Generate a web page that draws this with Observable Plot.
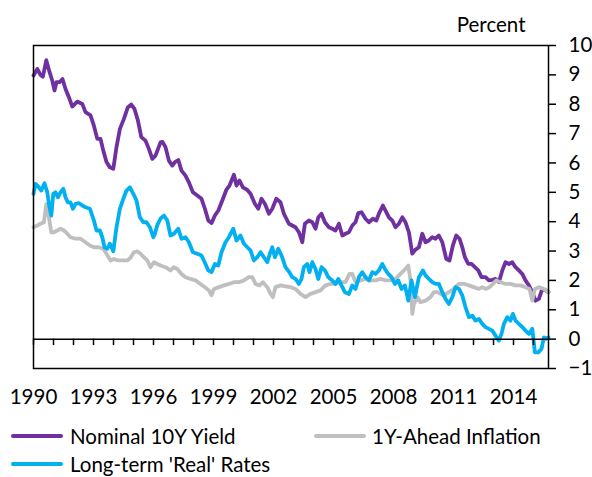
<!DOCTYPE html>
<html>
<head>
<meta charset="utf-8">
<script src="https://cdn.jsdelivr.net/npm/d3@7"></script>
<script src="https://cdn.jsdelivr.net/npm/@observablehq/plot@0.6"></script>
<style>
  html, body { margin: 0; padding: 0; background: #fff; }
  #wrap { position: relative; width: 592px; height: 477px; overflow: hidden; font-family: Lato, "Open Sans", sans-serif; color: #000; }
  .sw { position: absolute; height: 4px; width: 52px; border-radius: 2px; }
  .lt { position: absolute; font-size: 20.5px; line-height: 24px; white-space: nowrap; }
</style>
</head>
<body>
<div id="wrap"></div>
<script>
// ---- Data ----
const nominalDates = [1990.00,1990.19,1990.35,1990.47,1990.64,1990.80,1990.94,1991.05,1991.15,1991.30,1991.45,1991.60,1991.77,1991.94,1992.19,1992.44,1992.60,1992.85,1993.02,1993.19,1993.35,1993.49,1993.65,1993.82,1993.99,1994.15,1994.32,1994.52,1994.72,1994.89,1995.05,1995.22,1995.39,1995.60,1995.77,1995.94,1996.10,1996.35,1996.45,1996.60,1996.77,1996.94,1997.07,1997.24,1997.40,1997.60,1997.77,1997.97,1998.19,1998.40,1998.57,1998.74,1998.90,1999.07,1999.24,1999.44,1999.64,1999.80,2000.02,2000.15,2000.30,2000.47,2000.69,2000.85,2001.07,2001.24,2001.40,2001.57,2001.77,2001.94,2002.14,2002.35,2002.52,2002.77,2002.94,2003.10,2003.27,2003.44,2003.57,2003.77,2003.94,2004.10,2004.24,2004.40,2004.57,2004.77,2004.94,2005.10,2005.27,2005.44,2005.60,2005.77,2005.94,2006.10,2006.24,2006.40,2006.60,2006.77,2006.97,2007.14,2007.30,2007.47,2007.60,2007.77,2007.94,2008.10,2008.27,2008.44,2008.60,2008.77,2008.94,2009.10,2009.27,2009.44,2009.60,2009.77,2009.94,2010.10,2010.27,2010.44,2010.64,2010.80,2010.97,2011.14,2011.30,2011.44,2011.57,2011.74,2011.90,2012.07,2012.24,2012.40,2012.60,2012.77,2012.94,2013.10,2013.27,2013.44,2013.60,2013.77,2013.94,2014.10,2014.27,2014.44,2014.60,2014.77,2014.94,2015.10,2015.27,2015.44,2015.60,2015.75];
const nominalValues = [8.98,9.2,9.0,8.94,9.5,9.1,8.8,8.47,8.75,8.75,8.86,8.52,8.24,7.92,8.09,8.01,7.73,7.62,7.27,6.82,6.82,6.42,6.03,5.85,5.8,6.54,7.16,7.5,7.9,7.99,7.84,7.45,6.88,6.76,6.48,6.14,6.25,6.7,6.72,6.54,6.08,5.91,6.03,6.1,5.74,5.57,5.34,5.0,4.89,4.78,4.44,4.04,3.95,4.21,4.38,4.72,5.08,5.23,5.6,5.23,5.4,5.17,5.08,4.95,4.61,4.44,4.78,4.61,4.27,4.44,4.78,4.66,4.27,3.93,3.87,3.81,3.64,3.3,3.93,4.04,3.98,3.76,4.15,4.27,3.98,3.81,3.76,3.7,3.93,3.53,3.59,3.64,3.87,3.98,4.29,4.32,4.1,3.98,4.1,4.04,4.32,4.55,4.38,4.15,4.04,3.81,3.93,4.15,3.98,3.64,2.91,3.05,3.13,3.59,3.3,3.36,3.47,3.42,3.53,3.3,2.73,2.68,3.19,3.53,3.42,3.13,2.79,2.56,2.56,2.45,2.34,2.11,2.11,2.0,2.02,2.05,1.94,2.34,2.62,2.56,2.62,2.45,2.34,2.22,2.0,1.83,1.6,1.31,1.37,1.71,1.66,1.6];

const inflationDates = [1990.00,1990.19,1990.35,1990.52,1990.64,1990.77,1990.89,1991.02,1991.19,1991.35,1991.52,1991.69,1991.85,1992.10,1992.35,1992.60,1992.82,1993.02,1993.27,1993.49,1993.65,1993.85,1994.02,1994.22,1994.44,1994.69,1994.85,1995.02,1995.19,1995.35,1995.52,1995.69,1995.85,1996.02,1996.19,1996.35,1996.60,1996.85,1997.02,1997.19,1997.40,1997.60,1997.85,1998.10,1998.35,1998.57,1998.77,1998.90,1999.02,1999.27,1999.52,1999.77,2000.02,2000.27,2000.52,2000.77,2000.94,2001.10,2001.30,2001.47,2001.69,2001.85,2001.97,2002.10,2002.35,2002.60,2002.85,2003.10,2003.35,2003.60,2003.85,2004.10,2004.35,2004.60,2004.85,2005.10,2005.35,2005.60,2005.80,2005.94,2006.10,2006.35,2006.60,2006.85,2007.10,2007.35,2007.60,2007.85,2008.10,2008.35,2008.60,2008.74,2008.85,2008.94,2009.02,2009.19,2009.35,2009.60,2009.85,2010.02,2010.19,2010.35,2010.52,2010.77,2011.02,2011.27,2011.52,2011.77,2012.02,2012.27,2012.44,2012.60,2012.80,2012.97,2013.14,2013.35,2013.60,2013.85,2014.10,2014.35,2014.60,2014.80,2014.94,2015.07,2015.27,2015.52,2015.75];
const inflationValues = [3.81,3.87,3.93,3.98,4.6,4.15,3.64,3.64,3.7,3.76,3.7,3.59,3.47,3.42,3.42,3.3,3.19,3.13,3.13,3.08,2.91,2.68,2.73,2.68,2.68,2.68,2.77,2.96,2.99,2.91,2.79,2.68,2.45,2.62,2.56,2.51,2.45,2.34,2.45,2.39,2.22,2.11,2.05,2.0,1.88,1.77,1.66,1.49,1.71,1.77,1.83,1.88,1.94,1.94,2.0,2.11,2.11,1.88,1.83,1.94,1.77,1.54,1.43,1.77,1.83,1.8,1.77,1.71,1.54,1.43,1.54,1.6,1.66,1.83,1.88,1.88,1.94,1.94,2.22,2.22,1.94,2.0,2.05,2.0,2.0,2.05,2.0,2.0,2.05,2.22,2.39,2.51,2.0,0.86,1.2,1.43,1.26,1.31,1.43,1.6,1.6,1.54,1.49,1.6,1.71,1.88,1.88,1.83,1.77,1.71,1.77,1.71,1.77,1.88,2.0,1.94,1.88,1.88,1.83,1.83,1.77,1.71,1.31,1.71,1.77,1.71,1.6];

const realDates = [1990.00,1990.10,1990.27,1990.39,1990.55,1990.69,1990.77,1990.89,1990.99,1991.10,1991.22,1991.35,1991.49,1991.60,1991.72,1991.85,1991.97,1992.10,1992.27,1992.44,1992.60,1992.82,1993.02,1993.15,1993.32,1993.44,1993.55,1993.69,1993.82,1993.99,1994.15,1994.32,1994.49,1994.65,1994.82,1994.99,1995.15,1995.32,1995.49,1995.65,1995.82,1995.99,1996.05,1996.20,1996.35,1996.52,1996.69,1996.85,1997.02,1997.24,1997.40,1997.60,1997.77,1997.97,1998.19,1998.40,1998.60,1998.74,1998.90,1999.07,1999.24,1999.40,1999.60,1999.77,1999.99,2000.15,2000.35,2000.52,2000.69,2000.85,2001.02,2001.19,2001.35,2001.52,2001.69,2001.82,2001.94,2002.07,2002.24,2002.40,2002.60,2002.77,2002.94,2003.10,2003.27,2003.40,2003.52,2003.69,2003.80,2003.94,2004.10,2004.24,2004.40,2004.57,2004.74,2004.94,2005.10,2005.24,2005.40,2005.57,2005.77,2005.94,2006.10,2006.27,2006.44,2006.60,2006.77,2006.94,2007.10,2007.27,2007.44,2007.57,2007.74,2007.90,2008.07,2008.24,2008.40,2008.57,2008.74,2008.90,2009.07,2009.27,2009.47,2009.60,2009.77,2009.94,2010.10,2010.27,2010.44,2010.60,2010.77,2010.94,2011.10,2011.27,2011.44,2011.60,2011.77,2011.94,2012.10,2012.27,2012.44,2012.60,2012.77,2012.94,2013.10,2013.27,2013.40,2013.52,2013.69,2013.85,2013.97,2014.10,2014.27,2014.44,2014.60,2014.77,2014.94,2015.07,2015.24,2015.40,2015.52,2015.65,2015.75];
const realValues = [4.95,5.29,5.17,5.06,5.31,5.0,4.61,4.21,4.95,5.0,4.83,5.0,5.12,4.83,4.66,4.66,4.44,4.61,4.63,4.55,4.49,4.44,4.04,3.7,3.7,3.47,3.13,3.08,3.25,2.99,3.81,4.44,4.78,5.06,5.17,4.95,4.72,4.15,3.98,3.98,3.81,3.47,3.55,3.9,4.1,4.21,4.04,3.53,3.59,3.76,3.42,3.47,3.3,2.96,2.91,2.85,2.56,2.34,2.28,2.56,2.51,2.96,3.3,3.47,3.76,3.36,3.53,3.25,3.13,3.02,2.68,2.79,2.96,2.79,2.62,2.91,3.13,2.79,3.08,2.85,2.45,2.3,2.11,2.05,1.88,2.05,2.45,2.56,2.28,2.62,2.39,2.05,2.45,2.34,2.11,2.0,1.88,2.05,1.83,1.6,1.54,1.83,1.71,2.11,2.28,2.11,2.0,2.28,2.22,2.34,2.56,2.39,2.22,2.11,1.88,2.0,1.71,1.83,1.31,2.0,1.43,2.11,2.34,2.17,2.05,1.94,1.88,1.88,1.6,1.37,1.2,1.43,1.77,1.71,1.49,1.09,0.75,0.8,0.63,0.69,0.52,0.41,0.35,0.29,0.12,-0.05,0.18,0.52,0.75,0.63,0.86,0.63,0.52,0.41,0.29,0.18,0.35,-0.45,-0.45,-0.33,0.06,0.01,0.06];

const seriesNames = ["Nominal 10Y Yield", "1Y-Ahead Inflation", "Long-term 'Real' Rates"];
const seriesColors = ["#7030A0", "#BFBFBF", "#00B0F0"];
const yTickValues = [-1, 0, 1, 2, 3, 4, 5, 6, 7, 8, 9, 10];
const xLabelYears = [1990, 1993, 1996, 1999, 2002, 2005, 2008, 2011, 2014];
const xTickYears = d3.range(1990, 2016);
const yAxisTitle = "Percent";

// ---- Build tables ----
const toRows = (dates, values, s) => dates.map((d, i) => ({date: d, value: values[i], series: s}));
const nominal = toRows(nominalDates, nominalValues, seriesNames[0]);
const inflation = toRows(inflationDates, inflationValues, seriesNames[1]);
const real = toRows(realDates, realValues, seriesNames[2]);

const chart = Plot.plot({
  width: 592,
  height: 410,
  marginLeft: 33,
  marginRight: 44,
  marginTop: 45,
  marginBottom: 42,
  style: {fontFamily: "Lato, 'Open Sans', sans-serif", fontSize: "20.5px", color: "#000", background: "#fff"},
  x: {domain: [1990, 2015.75]},
  y: {domain: [-1, 10]},
  marks: [
    Plot.line(nominal, {x: "date", y: "value", stroke: seriesColors[0], strokeWidth: 3.8}),
    Plot.line(inflation, {x: "date", y: "value", stroke: seriesColors[1], strokeWidth: 3.8}),
    Plot.line(real, {x: "date", y: "value", stroke: seriesColors[2], strokeWidth: 3.8}),
    Plot.ruleY([0], {stroke: "#000", strokeWidth: 1.5}),
    Plot.ruleX(xTickYears, {y1: 0, y2: -0.22, stroke: "#000", strokeWidth: 1.5}),
    Plot.frame({stroke: "#000", strokeWidth: 1.5}),
    Plot.axisY(yTickValues, {anchor: "right", tickSize: 7, tickPadding: 13, label: null, strokeWidth: 1.5}),
    Plot.axisX(xLabelYears, {anchor: "bottom", tickSize: 0, tickPadding: 21, tickFormat: d => String(d), label: null}),
    Plot.text([yAxisTitle], {frameAnchor: "top-right", dx: -23, dy: -20, textAnchor: "end", lineAnchor: "middle", fontSize: 20.5})
  ]
});

const wrap = document.getElementById("wrap");
wrap.appendChild(chart);

// ---- Legend (HTML below the SVG) ----
const legendItems = [
  {name: seriesNames[0], color: seriesColors[0], sx: 11, tx: 70, cy: 436},
  {name: seriesNames[1], color: seriesColors[1], sx: 314, tx: 372, cy: 436},
  {name: seriesNames[2], color: seriesColors[2], sx: 11, tx: 70, cy: 464}
];
for (const it of legendItems) {
  const sw = document.createElement("div");
  sw.className = "sw";
  sw.style.left = it.sx + "px";
  sw.style.top = (it.cy - 2) + "px";
  sw.style.background = it.color;
  wrap.appendChild(sw);
  const t = document.createElement("div");
  t.className = "lt";
  t.style.left = it.tx + "px";
  t.style.top = (it.cy - 12) + "px";
  t.textContent = it.name;
  wrap.appendChild(t);
}
</script>
</body>
</html>
